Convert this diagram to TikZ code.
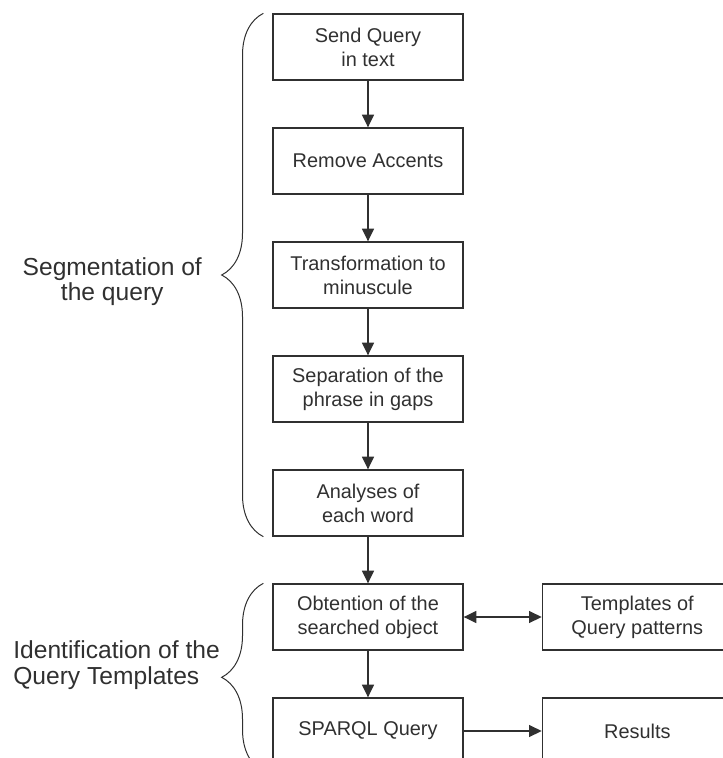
\documentclass[tikz,border=0pt]{standalone}
\usepackage{fontspec}
\setmainfont{Liberation Sans}
\usetikzlibrary{positioning, arrows.meta, decorations.pathreplacing}
\definecolor{ink}{HTML}{303030}
\tikzstyle{box} = [draw=ink, line width=0.04cm, rectangle, text=ink, align=center, minimum width=5.7cm, minimum height=1.98cm, font=\fontsize{17}{20.5}\selectfont]
\tikzstyle{line} = [draw=ink, line width=0.04cm, -{Triangle[length=0.38cm, width=0.36cm]}]
\tikzstyle{dline} = [draw=ink, line width=0.04cm, {Triangle[length=0.38cm, width=0.36cm]}-{Triangle[length=0.38cm, width=0.36cm]}]
\tikzstyle{curly} = [draw=ink, line width=0.03cm, decorate, decoration={brace, amplitude=1.25cm}]
\tikzstyle{bracelabel} = [text=ink, inner sep=0pt, font=\fontsize{21}{22}\selectfont]

\begin{document}
\begin{tikzpicture}[node distance=1.4cm]
	\clip (0,0) rectangle (21.69,-22.74);
	\node [box] (send) at (11.04,-1.41) {Send Query\\ in text};
	\node [box, below=of send] (accents) {Remove Accents};
	\node [box, below=of accents] (minuscule) {Transformation to\\ minuscule};
	\node [box, below=of minuscule] (gaps) {Separation of the\\ phrase in gaps};
	\node [box, below=of gaps] (analyses) {Analyses of\\ each word};
	\node [box, below=of analyses] (obtention) {Obtention of the\\ searched object};
	\node [box, right=2.34cm of obtention] (templates) {Templates of\\ Query patterns};
	\node [box, below=of obtention] (sparql) {SPARQL Query};
	\node [box, right=2.34cm of sparql] (results) {Results};

	\path [line] (send) -- (accents);
	\path [line] (accents) -- (minuscule);
	\path [line] (minuscule) -- (gaps);
	\path [line] (gaps) -- (analyses);
	\path [line] (analyses) -- (obtention);
	\path [dline] (obtention) -- (templates);
	\path [line] (obtention) -- (sparql);
	\path [line] (sparql) -- (results);

	% braces with their labels
	\path [curly] ([xshift=-0.27cm]analyses.south west) -- node [bracelabel, align=center, left=1.83cm, yshift=-0.2cm] {Segmentation of\\ the query} ([xshift=-0.27cm]send.north west);
	\path [curly] ([xshift=-0.27cm, yshift=-0.2cm]sparql.south west) -- node [bracelabel, align=left, left=1.29cm, yshift=0.36cm] {Identification of the\\ Query Templates} ([xshift=-0.27cm]obtention.north west);
\end{tikzpicture}
\end{document}
